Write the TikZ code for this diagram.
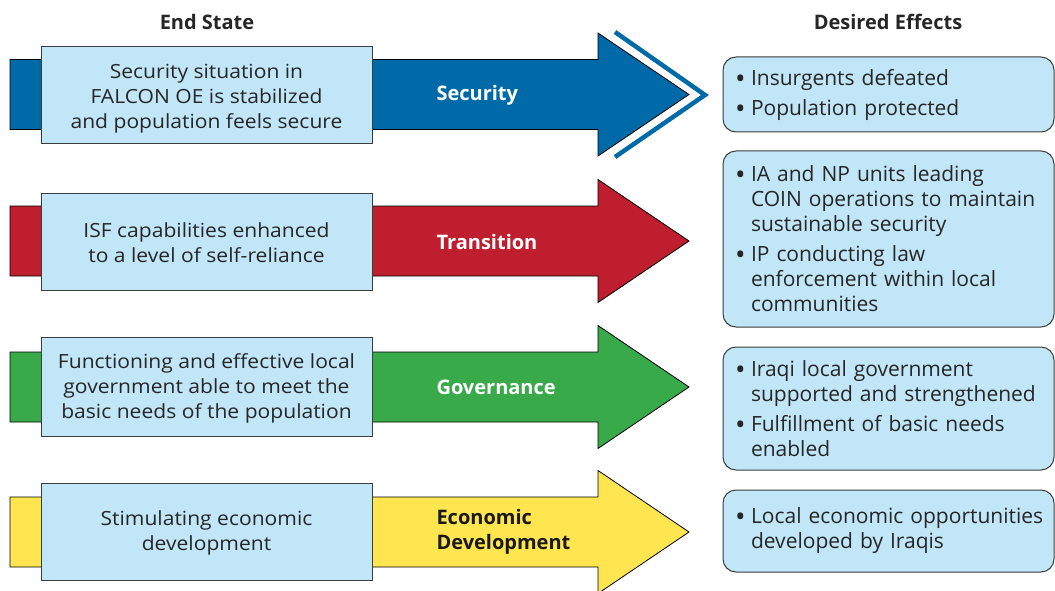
\documentclass[tikz,border=0pt]{standalone}
\usepackage{fontspec}
\setmainfont{Open Sans}
\newfontfamily\statef[FakeStretch=1.08]{Open Sans}
\newfontfamily\condf[FakeStretch=1.0]{Open Sans}
\newfontfamily\effectf[FakeStretch=1.0]{Open Sans}
\definecolor{secblue}{RGB}{0,106,168}
\definecolor{trared}{RGB}{190,30,45}
\definecolor{govgreen}{RGB}{57,170,73}
\definecolor{ecoyellow}{RGB}{255,230,80}
\definecolor{boxblue}{RGB}{192,230,248}
\definecolor{edgegray}{RGB}{60,60,60}
\newcommand\bitem[1]{{\let\\\newline\hangindent=28pt\hangafter=1\noindent\hspace*{12pt}%
  \makebox[16pt][l]{\raisebox{-3pt}{\fontsize{28}{0}\selectfont\textbullet}}#1\par}}
\newcommand\bgap{\vspace{5pt}}
\tikzset{
  arrowshape/.style={draw=black, line width=0.8pt, line join=miter},
  statebox/.style={draw=edgegray, line width=1pt, fill=boxblue, minimum width=331pt, inner sep=0pt},
  statetext/.style={font=\statef\fontsize{19.5}{25}\selectfont, text=black!85, align=center},
  effbox/.style={draw=edgegray, line width=1pt, fill=boxblue, rounded corners=13pt, minimum width=331pt,
    text width=331pt, inner xsep=0pt, inner ysep=0pt, align=left,
    font=\effectf\fontsize{21}{25}\selectfont, text=black!85},
  armlabel/.style={anchor=west, align=left, font=\condf\bfseries\fontsize{20}{25}\selectfont},
  header/.style={font=\condf\bfseries\fontsize{20}{24}\selectfont, text=black!85}
}
\newcommand\bigarrow[2]{%
  \draw[arrowshape, fill=#2] (10,#1-35) -- (598,#1-35) -- (598,#1-61.5) -- (689,#1)
    -- (598,#1+61.5) -- (598,#1+35) -- (10,#1+35) -- cycle;}
\begin{document}
\begin{tikzpicture}[x=1pt,y=-1pt]
\useasboundingbox (0,0) rectangle (1055,591);
% headers
\node[header] (hend) at (207,22) {End State};
\node[header] (heff) at (888,22) {Desired Effects};
% arrows
\bigarrow{94.5}{secblue}
\bigarrow{241}{trared}
\bigarrow{387}{govgreen}
\bigarrow{532}{ecoyellow}
\draw[secblue, line width=4.5pt, line join=miter, miter limit=10] (615,32) -- (705,95) -- (615,157);
% end-state boxes
\node[statebox, minimum height=97pt] (s1) at (206.5,95.5) {};
\node[statetext] (t1) at (206.5,98.5) {Security situation in\\FALCON OE is stabilized\\and population feels secure};
\node[statebox, minimum height=97pt] (s2) at (206.5,241.5) {};
\node[statetext] (t2) at (206.5,243) {ISF capabilities enhanced\\to a level of self-reliance};
\node[statebox, minimum height=99pt] (s3) at (206.5,386.5) {};
\node[statetext] (t3) at (206.5,388) {Functioning and effective local\\government able to meet the\\basic needs of the population};
\node[statebox, minimum height=97pt] (s4) at (206.5,531.5) {};
\node[statetext] (t4) at (206.5,532.5) {Stimulating economic\\development};
% arrow labels
\node[armlabel, text=white] (l1) at (433,95.5) {Security};
\node[armlabel, text=white] (l2) at (433,242) {Transition};
\node[armlabel, text=white] (l3) at (433,387) {Governance};
\node[armlabel, text=black!90] (l4) at (433,532) {Economic\\Development};
% desired effects
\node[effbox, minimum height=75pt] (e1) at (888.5,94.5) {\bitem{Insurgents defeated}\bgap\bitem{Population protected}};
\node[effbox, minimum height=176pt] (e2) at (888.5,239) {\bitem{IA and NP units leading\\COIN operations to maintain\\sustainable security}\bgap\bitem{IP conducting law\\enforcement within local\\communities}};
\node[effbox, minimum height=123pt] (e3) at (888.5,408.5) {\bitem{Iraqi local government\\supported and strengthened}\bgap\bitem{Fulfillment of basic needs\\enabled}};
\node[effbox, minimum height=82pt] (e4) at (888.5,531) {\bitem{Local economic opportunities\\developed by Iraqis}};
\end{tikzpicture}
\end{document}
